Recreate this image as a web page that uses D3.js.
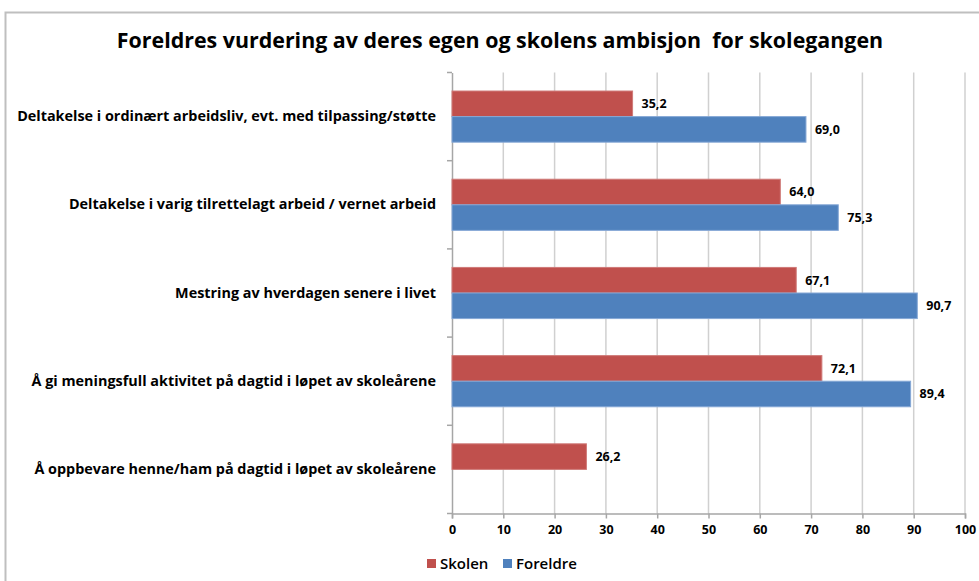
<!DOCTYPE html>
<html>
<head>
<meta charset="utf-8">
<script src="https://cdn.jsdelivr.net/npm/d3@7"></script>
<style>
body{margin:0;background:#fff;}
text{font-family:'Open Sans',Lato,sans-serif;fill:#000;}
</style>
</head>
<body>
<script>
const width=979;
const height=581;

const categories=[
    'Deltakelse i ordinært arbeidsliv, evt. med tilpassing/støtte',
    'Deltakelse i varig tilrettelagt arbeid / vernet arbeid',
    'Mestring av hverdagen senere i livet',
    'Å gi meningsfull aktivitet på dagtid i løpet av skoleårene',
    'Å oppbevare henne/ham på dagtid i løpet av skoleårene'
];
const skolen=[35.2,64.0,67.1,72.1,26.2];
const foreldre=[69.0,75.3,90.7,89.4,null];
const seriesNames=['Skolen','Foreldre'];
const colors=['#C0504D','#4F81BD'];
const xTicks=[0,10,20,30,40,50,60,70,80,90,100];

const svg=d3.select('body').append('svg').attr('width',width).attr('height',height);

// chart frame
svg.append('rect').attr('x',5.5).attr('y',12.5).attr('width',width).attr('height',height)
    .attr('fill','none').attr('stroke','#bfbfbf').attr('stroke-width',2);

svg.append('text').text('Foreldres vurdering av deres egen og skolens ambisjon\u00a0 for skolegangen')
    .attr('x',500).attr('y',48).attr('text-anchor','middle')
    .style('font-size','21.4px').style('font-weight','bold');

const x=d3.scaleLinear().domain([0,100]).range([452,965]);
const y=d3.scaleBand().domain(categories).range([72.5,513.5]).paddingInner(0.42).paddingOuter(0.21);
const ySub=d3.scaleBand().domain(seriesNames).range([0,y.bandwidth()]);

// gridlines
svg.append('g').selectAll('line').data(xTicks.slice(1)).enter().append('line')
    .attr('x1',d=>x(d)).attr('x2',d=>x(d)).attr('y1',72.5).attr('y2',513.5)
    .attr('stroke','#d0d0d0').attr('stroke-width',1.5);

const xAxis=d3.axisBottom(x).tickValues(xTicks).tickSize(5).tickPadding(7).tickFormat(d3.format('d'));
const gx=svg.append('g').attr('transform','translate(0,513.5)').call(xAxis);
gx.select('.domain').attr('stroke','#a6a6a6').attr('stroke-width',1.5);
gx.selectAll('.tick line').attr('stroke','#a6a6a6').attr('stroke-width',1.5);
gx.selectAll('.tick text').style('font-size','12.5px').style('font-weight','bold').attr('fill','#000');

// category axis
const yAxis=d3.axisLeft(y).tickSize(0).tickPadding(16);
const gy=svg.append('g').attr('transform','translate(452,0)').call(yAxis);
gy.select('.domain').attr('stroke','#a6a6a6').attr('stroke-width',1.5);
gy.selectAll('.tick text').style('font-size','14.4px').style('font-weight','bold').attr('fill','#000');
const step=y.step();
gy.selectAll('.boundary').data(d3.range(categories.length+1)).enter().append('line')
    .attr('x1',-5).attr('x2',0)
    .attr('y1',i=>72.5+i*step).attr('y2',i=>72.5+i*step)
    .attr('stroke','#a6a6a6').attr('stroke-width',1.5);

const rows=[];
categories.forEach((c,i)=>{
    if(skolen[i]!=null) rows.push({cat:c,s:0,v:skolen[i]});
    if(foreldre[i]!=null) rows.push({cat:c,s:1,v:foreldre[i]});
});

svg.append('g').selectAll('rect').data(rows).enter().append('rect')
    .attr('x',x(0))
    .attr('y',d=>y(d.cat)+ySub(seriesNames[d.s]))
    .attr('width',d=>x(d.v)-x(0))
    .attr('height',ySub.bandwidth())
    .attr('fill',d=>colors[d.s])
    .attr('stroke',d=>d.s===0?'#cf7a78':'#86a8d6').attr('stroke-width',1);

svg.append('g').selectAll('text').data(rows).enter().append('text')
    .text(d=>d.v.toFixed(1).replace('.',','))
    .attr('x',d=>x(d.v)+9)
    .attr('y',d=>y(d.cat)+ySub(seriesNames[d.s])+ySub.bandwidth()/2)
    .attr('dy','0.35em')
    .style('font-size','12.5px').style('font-weight','bold');

// legend
const legend=svg.append('g').attr('transform','translate(427,564)');
const lx=[0,76];
seriesNames.forEach((n,i)=>{
    legend.append('rect').attr('x',lx[i]).attr('y',-5).attr('width',9).attr('height',9).attr('fill',colors[i]);
    legend.append('text').text(n).attr('x',lx[i]+13).attr('y',0).attr('dy','0.35em')
        .style('font-size','15px').style('font-weight','600');
});
</script>
</body>
</html>
